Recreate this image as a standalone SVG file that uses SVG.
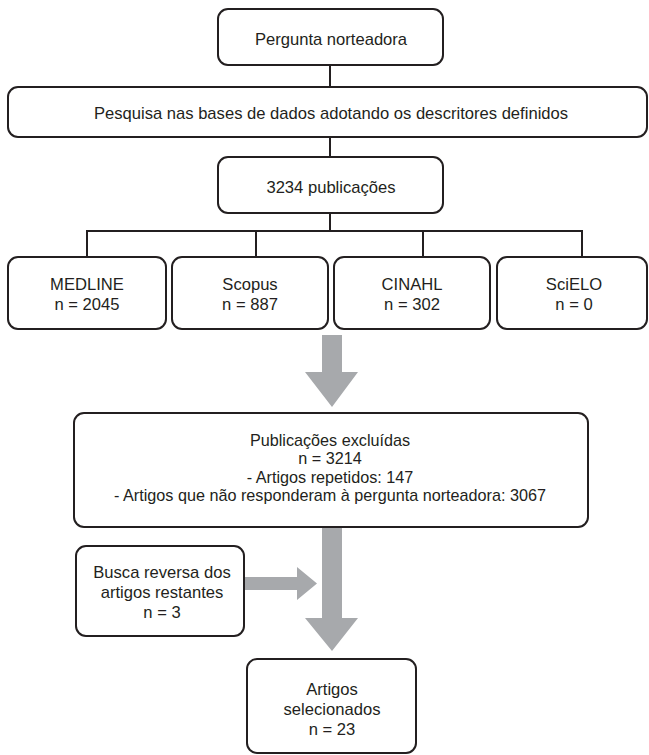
<svg xmlns="http://www.w3.org/2000/svg" width="649" height="755" viewBox="0 0 649 755">
<style>
.box{fill:#fff;stroke:#231f20;stroke-width:2}
.ln{fill:none;stroke:#231f20;stroke-width:2}
.arr{fill:#a7a9ac;stroke:none}
text{font-family:"Liberation Sans",Arial,sans-serif;font-size:16.6px;fill:#231f20;text-anchor:middle}
.sm{font-size:16.2px}
</style>
<rect width="649" height="755" fill="#fff"/>
<g id="connectors">
<path class="ln" d="M330 65V87M330 137V157M330 213V231M87 257V231H582V257M256 231V257M423 231V257"/>
<path class="arr" d="M322 335H342V372H358L332 407L305 372H322Z"/>
<path class="arr" d="M322 527H342V618H358L332 651L305 618H322Z"/>
<path class="arr" d="M244 577H297V567L317 583.5L297 600V590H244Z"/>
</g>
<g id="n1"><rect class="box" x="218" y="9" width="225" height="56" rx="10"/><text x="331" y="45">Pergunta norteadora</text></g>
<g id="n2"><rect class="box" x="8" y="87" width="639" height="50" rx="10"/><text x="331" y="119">Pesquisa nas bases de dados adotando os descritores definidos</text></g>
<g id="n3"><rect class="box" x="218" y="157" width="225" height="56" rx="10"/><text x="331" y="193">3234 publicações</text></g>
<g id="n4"><rect class="box" x="8" y="257" width="158" height="72" rx="10"/><text x="87" y="290">MEDLINE</text><text x="87" y="310">n = 2045</text></g>
<g id="n5"><rect class="box" x="172" y="257" width="156" height="72" rx="10"/><text x="250" y="290">Scopus</text><text x="250" y="310">n = 887</text></g>
<g id="n6"><rect class="box" x="334" y="257" width="156" height="72" rx="10"/><text x="412" y="290">CINAHL</text><text x="412" y="310">n = 302</text></g>
<g id="n7"><rect class="box" x="497" y="257" width="150" height="72" rx="10"/><text x="574" y="290">SciELO</text><text x="574" y="310">n = 0</text></g>
<g id="n8"><rect class="box" x="74" y="413" width="514" height="114" rx="10"/><text class="sm" x="330" y="446">Publicações excluídas</text><text class="sm" x="330" y="464.3">n = 3214</text><text class="sm" x="330" y="482.6">- Artigos repetidos: 147</text><text class="sm" x="330" y="501">- Artigos que não responderam à pergunta norteadora: 3067</text></g>
<g id="n9"><rect class="box" x="76" y="546" width="168" height="90" rx="10"/><text x="162" y="578">Busca reversa dos</text><text x="162" y="598">artigos restantes</text><text x="162" y="618">n = 3</text></g>
<g id="n10"><rect class="box" x="247" y="659" width="169" height="94" rx="10"/><text x="332" y="695">Artigos</text><text x="332" y="715">selecionados</text><text x="332" y="735">n = 23</text></g>
</svg>
